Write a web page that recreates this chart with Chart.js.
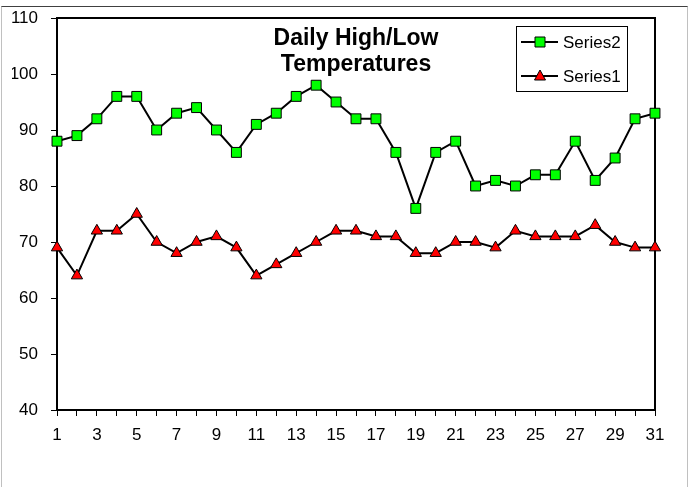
<!DOCTYPE html>
<html>
<head>
<meta charset="utf-8">
<script src="https://cdn.jsdelivr.net/npm/chart.js@4"></script>
<style>
  html, body { margin: 0; padding: 0; background: #fff; }
  #frame {
    position: absolute; left: 1px; top: 6px; width: 685px; height: 490px;
    border-top: 1px solid #404040; border-left: 1px solid #c0c0c0; border-right: 1px solid #c0c0c0;
  }
  #wrap { position: absolute; left: 0; top: 0; width: 690px; height: 487px; }
</style>
</head>
<body>
<div id="frame"></div>
<div id="wrap"><canvas id="mychart" width="690" height="487"></canvas></div>
<script>
// Dữ liệu
const days = [];
for (let d = 1; d <= 31; d++) days.push(String(d));
const highTemps = [88, 89, 92, 96, 96, 90, 93, 94, 90, 86, 91, 93, 96, 98, 95, 92, 92, 86, 76, 86, 88, 80, 81, 80, 82, 82, 88, 81, 85, 92, 93];
const lowTemps = [69, 64, 72, 72, 75, 70, 68, 70, 71, 69, 64, 66, 68, 70, 72, 72, 71, 71, 68, 68, 70, 70, 69, 72, 71, 71, 71, 73, 70, 69, 69];
const titleLines = ["Daily High/Low", "Temperatures"];
const FONT = "'Liberation Sans', Arial, sans-serif";

// Khung + tiêu đề + chú thích vẽ trong vùng biểu đồ
const overlay = {
  id: "overlay",
  beforeDatasetsDraw(chart) {
    const { ctx, chartArea: a } = chart;
    ctx.save();
    ctx.strokeStyle = "#000";
    ctx.lineWidth = 2;
    ctx.strokeRect(a.left, a.top, a.right - a.left, a.bottom - a.top);
    ctx.restore();
  },
  afterDraw(chart) {
    const { ctx, chartArea: a } = chart;
    ctx.save();
    // tiêu đề
    ctx.fillStyle = "#000";
    ctx.font = "bold 23px " + FONT;
    ctx.textAlign = "center";
    ctx.textBaseline = "middle";
    const cx = (a.left + a.right) / 2;
    titleLines.forEach((t, i) => ctx.fillText(t, cx, a.top + 21 + i * 26));

    // chú thích
    const bx = a.right - 139, by = a.top + 8, bw = 111, bh = 65;
    ctx.fillStyle = "#fff";
    ctx.fillRect(bx, by, bw, bh);
    ctx.strokeStyle = "#000";
    ctx.lineWidth = 1;
    ctx.strokeRect(bx + 0.5, by + 0.5, bw, bh);
    ctx.font = "17px " + FONT;
    ctx.textAlign = "left";
    const items = [chart.data.datasets[0], chart.data.datasets[1]];
    items.forEach((ds, i) => {
      const y = by + 16 + i * 34;
      ctx.strokeStyle = "#000";
      ctx.lineWidth = 2;
      ctx.beginPath();
      ctx.moveTo(bx + 5, y);
      ctx.lineTo(bx + 42, y);
      ctx.stroke();
      const mx = bx + 24;
      ctx.fillStyle = ds.pointBackgroundColor;
      ctx.lineWidth = 1;
      ctx.beginPath();
      if (ds.pointStyle === "rect") {
        ctx.rect(mx - 5, y - 5, 10, 10);
      } else {
        ctx.moveTo(mx, y - 6);
        ctx.lineTo(mx + 5.5, y + 4);
        ctx.lineTo(mx - 5.5, y + 4);
        ctx.closePath();
      }
      ctx.fill();
      ctx.stroke();
      ctx.fillStyle = "#000";
      ctx.fillText(ds.label, bx + 47, y + 1);
    });
    ctx.restore();
  },
};

const ctx = document.getElementById("mychart").getContext("2d");
const mychart = new Chart(ctx, {
  type: "line",
  data: {
    labels: days,
    datasets: [
      {
        label: "Series2",
        data: highTemps,
        borderColor: "#000",
        borderWidth: 2,
        pointStyle: "rect",
        pointRadius: 7,
        pointBackgroundColor: "#00ff00",
        pointBorderColor: "#000",
        pointBorderWidth: 1,
        tension: 0,
      },
      {
        label: "Series1",
        data: lowTemps,
        borderColor: "#000",
        borderWidth: 2,
        pointStyle: "triangle",
        pointRadius: 6.5,
        pointBackgroundColor: "#ff0000",
        pointBorderColor: "#000",
        pointBorderWidth: 1,
        tension: 0,
      },
    ],
  },
  options: {
    responsive: false,
    animation: false,
    events: [],
    layout: { padding: { left: 12, top: 18, right: 35, bottom: 47 } },
    plugins: { legend: { display: false }, title: { display: false }, tooltip: { enabled: false } },
    scales: {
      x: {
        offset: false,
        grid: { drawOnChartArea: false, drawTicks: true, tickLength: 6, color: "#000", lineWidth: 1 },
        border: { color: "#000", width: 2 },
        ticks: {
          autoSkip: false,
          maxRotation: 0,
          padding: 9,
          color: "#000",
          font: { family: FONT, size: 17 },
          callback: function (value, index) {
            return index % 2 === 0 ? this.getLabelForValue(value) : "";
          },
        },
        afterFit(scale) {
          scale.height = 30;
          scale.paddingLeft = 0;
          scale.paddingRight = 0;
        },
      },
      y: {
        min: 40,
        max: 110,
        grid: { drawOnChartArea: false, drawTicks: true, tickLength: 6, color: "#000", lineWidth: 1 },
        border: { color: "#000", width: 2 },
        ticks: { stepSize: 10, padding: 13, color: "#000", font: { family: FONT, size: 17 } },
        afterFit(scale) {
          scale.width = 45;
          scale.paddingTop = 0;
          scale.paddingBottom = 0;
        },
      },
    },
  },
  plugins: [overlay],
});
</script>
</body>
</html>
